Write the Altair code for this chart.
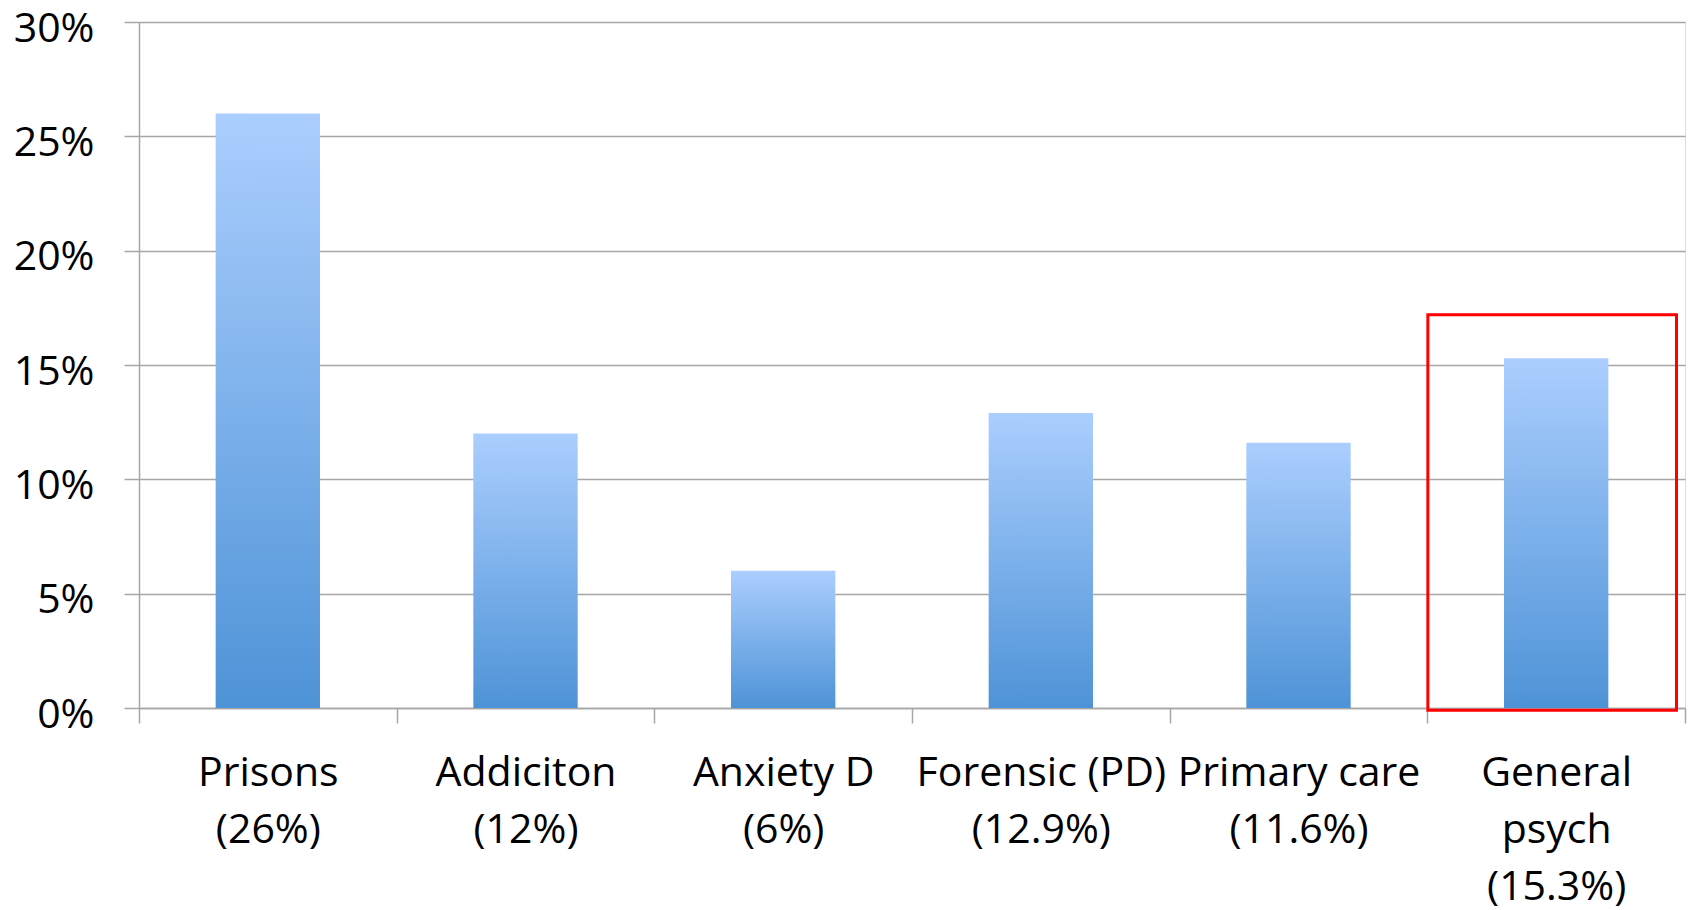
import altair as alt
import pandas as pd

categories = ["Prisons|(26%)", "Addiciton|(12%)", "Anxiety D|(6%)",
              "Forensic (PD)|(12.9%)", "Primary care|(11.6%)", "General|psych|(15.3%)"]
values = [26, 12, 6, 12.9, 11.6, 15.3]
highlight_category = "General|psych|(15.3%)"
highlight_low = -0.1
highlight_high = 17.2

df = pd.DataFrame({"cat": categories, "val": values})
box_df = pd.DataFrame({"cat": [highlight_category], "lo": [highlight_low], "hi": [highlight_high]})

FONT = "Open Sans"
FS = 41
x_enc = alt.X("cat:N", sort=categories, title=None,
              scale=alt.Scale(paddingInner=0, paddingOuter=0),
              axis=alt.Axis(labelExpr="split(datum.label, '|')", labelAngle=0,
                            labelFont=FONT, labelFontSize=FS, labelColor="black",
                            labelLineHeight=57, labelPadding=30, labelBaseline="top",
                            tickBand="extent", tickSize=15, tickColor="#a6a6a6", tickWidth=1.5,
                            domainColor="#a6a6a6", domainWidth=1.5, grid=False,
                            labelLimit=400))

bars = alt.Chart(df).mark_bar(
    width=alt.RelativeBandSize(0.405),
    color=alt.Gradient(gradient="linear", x1=0, y1=0, x2=0, y2=1,
                       stops=[alt.GradientStop(color="#abcefe", offset=0),
                              alt.GradientStop(color="#4e93d7", offset=1)])
).encode(
    x=x_enc,
    y=alt.Y("val:Q", title=None,
            scale=alt.Scale(domain=[0, 30], nice=False),
            axis=alt.Axis(values=[0, 5, 10, 15, 20, 25, 30], labelExpr="datum.value + '%'",
                          labelFont=FONT, labelFontSize=FS, labelColor="black",
                          labelPadding=30, labelOffset=7, labelFlush=False,
                          tickSize=15, tickColor="#a6a6a6", tickWidth=1.5,
                          gridColor="#a6a6a6", gridWidth=1.5,
                          domainColor="#a6a6a6", domainWidth=1.5)),
)

box = alt.Chart(box_df).mark_bar(
    width=alt.RelativeBandSize(0.965), xOffset=-4,
    fill=None, fillOpacity=0, stroke="#ff0000", strokeWidth=3
).encode(
    x=alt.X("cat:N", sort=categories),
    y=alt.Y("lo:Q"),
    y2="hi:Q",
)

chart = alt.layer(bars, box).properties(
    width=1546, height=686,
    autosize=alt.AutoSizeParams(type="none"),
    padding={"left": 139, "top": 22, "right": 9, "bottom": 202},
).configure_view(stroke=None).configure(background="white")

chart.save("out.html", embed_options={"renderer": "svg", "actions": False})
